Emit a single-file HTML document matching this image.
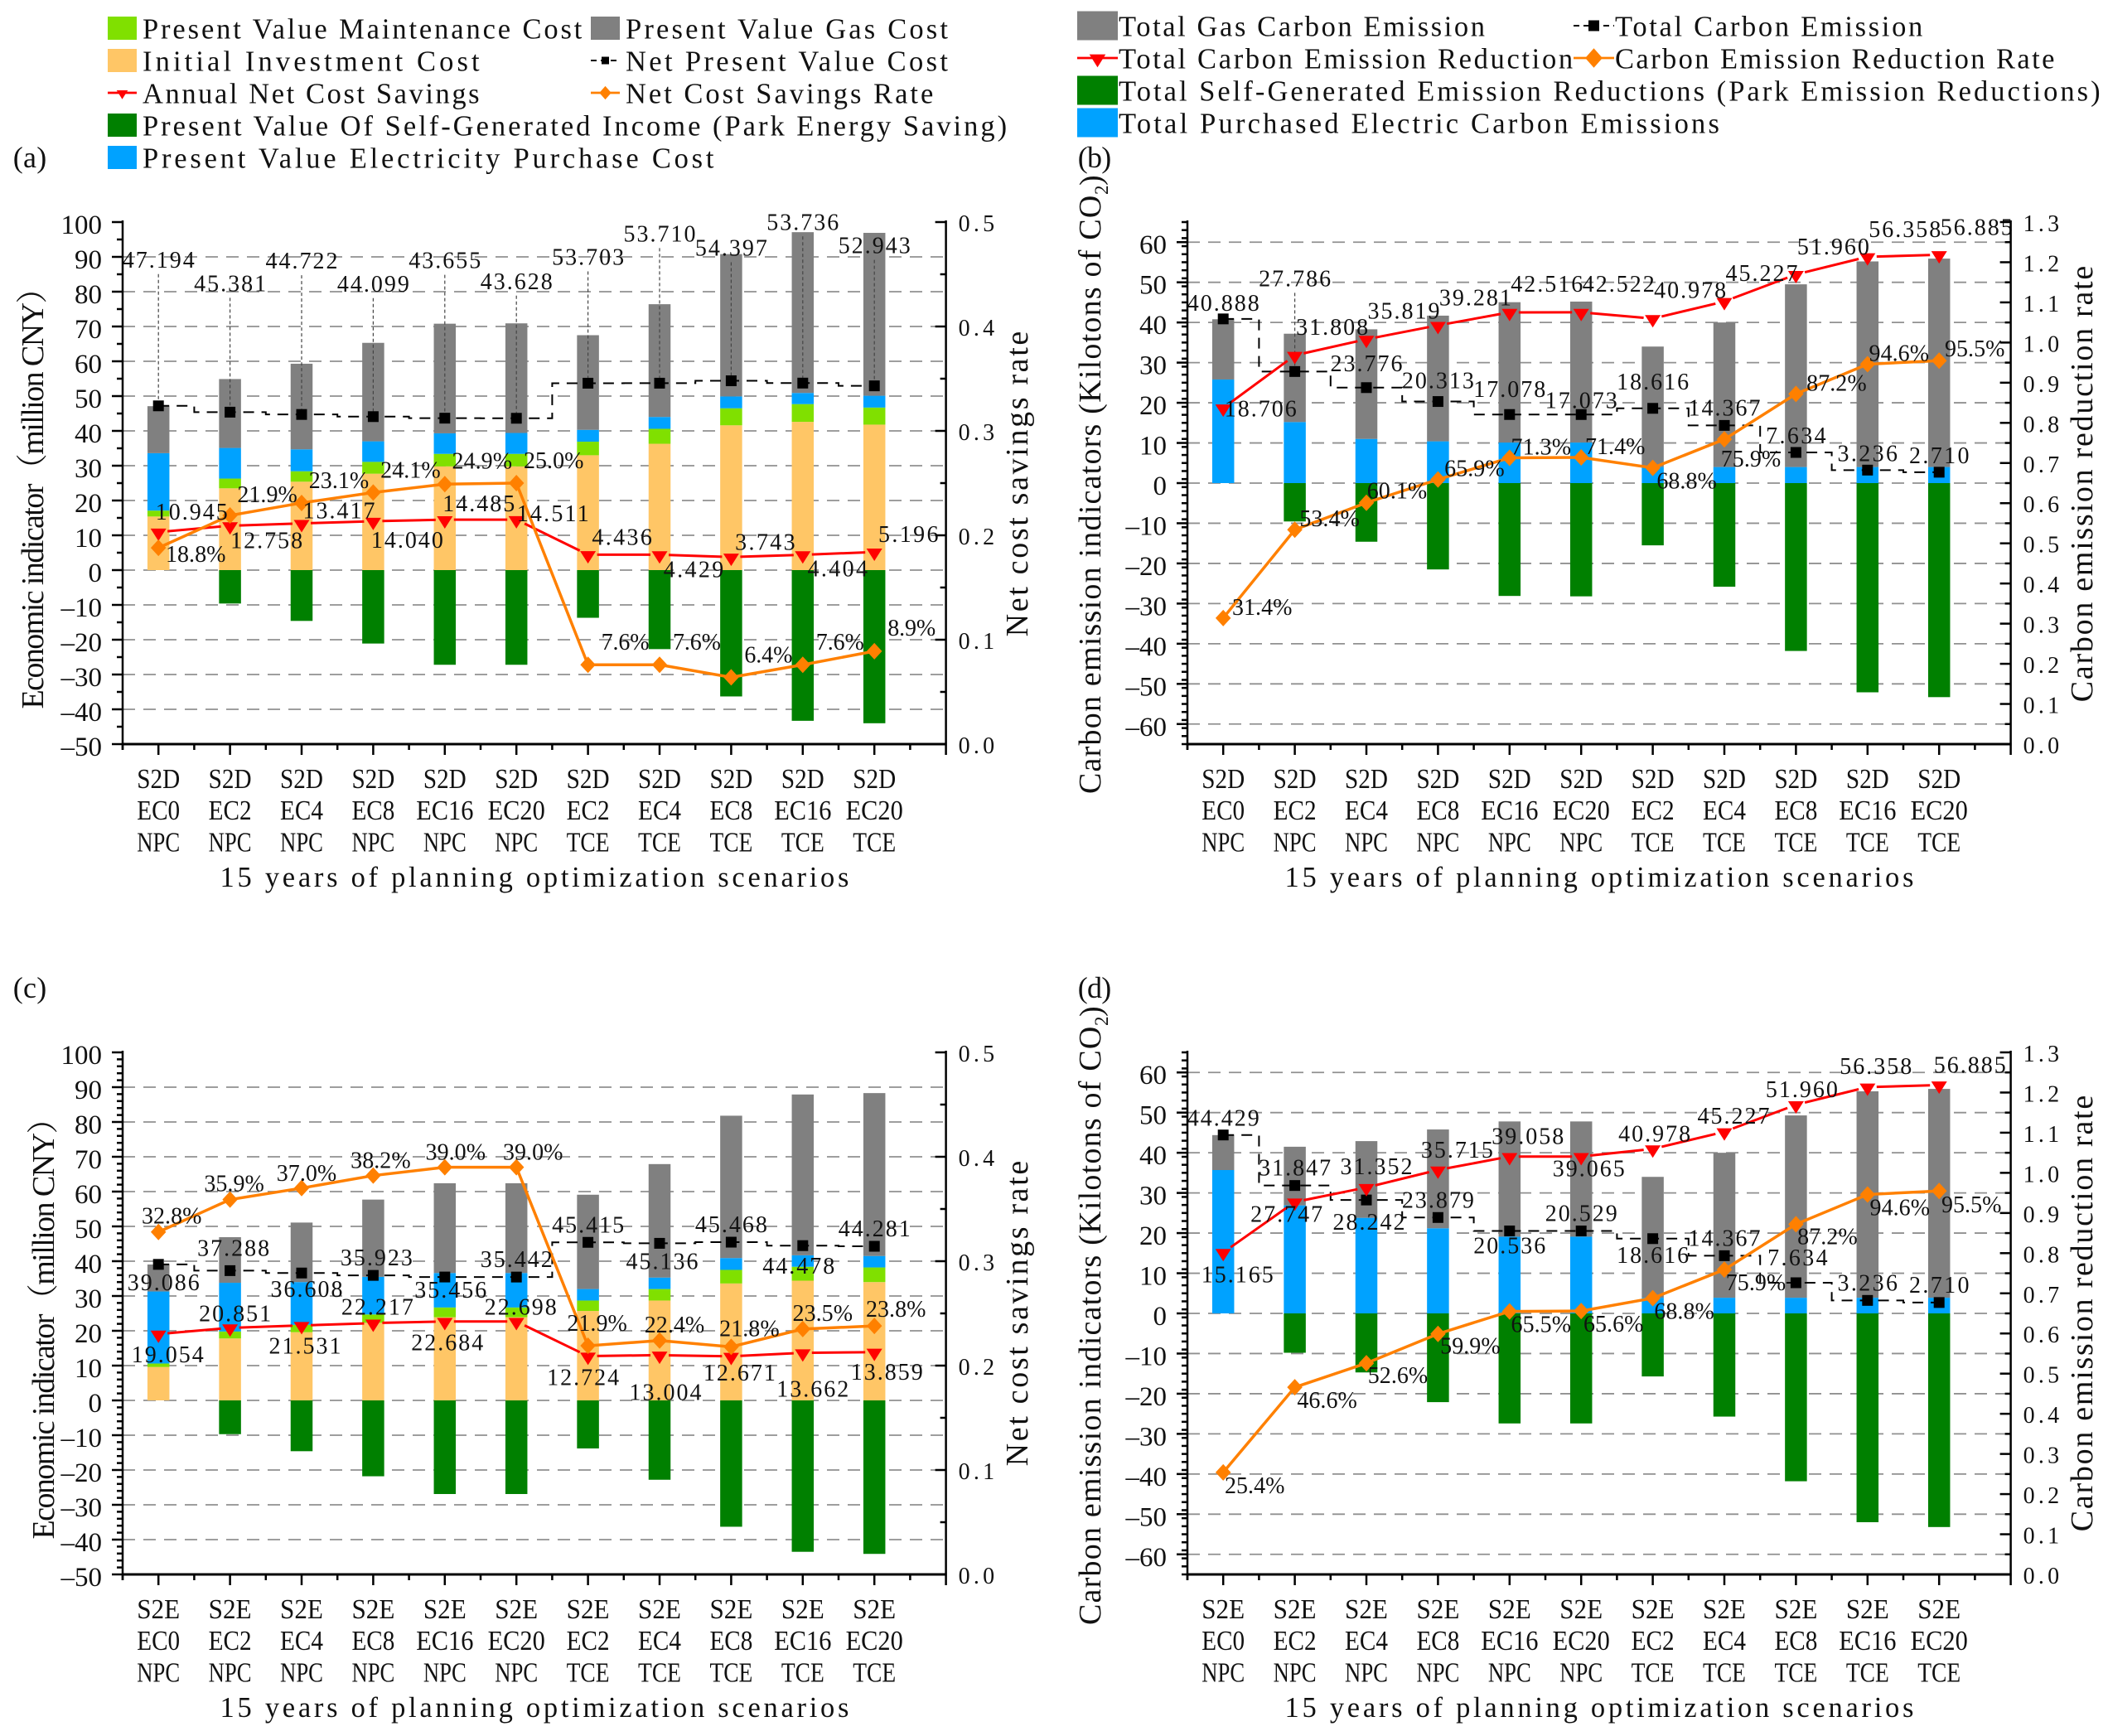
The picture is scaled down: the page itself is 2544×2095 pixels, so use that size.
<!DOCTYPE html>
<html lang="en">
<head>
<meta charset="utf-8">
<title>Planning optimization scenarios: economic and carbon indicators</title>
<style>
html,body{margin:0;padding:0;background:#fff}
svg{display:block}
text{font-family:"Liberation Serif","Noto Serif CJK SC",serif;fill:#111}
</style>
</head>
<body>
<svg id="figure" xmlns="http://www.w3.org/2000/svg" width="2544" height="2095" viewBox="0 0 2544 2095"></svg>
<script>
/* ---------- categories and ticks ---------- */
const categoriesS2D = ["S2D EC0 NPC","S2D EC2 NPC","S2D EC4 NPC","S2D EC8 NPC","S2D EC16 NPC","S2D EC20 NPC","S2D EC2 TCE","S2D EC4 TCE","S2D EC8 TCE","S2D EC16 TCE","S2D EC20 TCE"];
const categoriesS2E = ["S2E EC0 NPC","S2E EC2 NPC","S2E EC4 NPC","S2E EC8 NPC","S2E EC16 NPC","S2E EC20 NPC","S2E EC2 TCE","S2E EC4 TCE","S2E EC8 TCE","S2E EC16 TCE","S2E EC20 TCE"];
const costTicks = [100,90,80,70,60,50,40,30,20,10,0,-10,-20,-30,-40,-50];
const costRateTicks = [0.0,0.1,0.2,0.3,0.4,0.5];
const carbonTicks = [60,50,40,30,20,10,0,-10,-20,-30,-40,-50,-60];
const carbonRateTicks = [0.0,0.1,0.2,0.3,0.4,0.5,0.6,0.7,0.8,0.9,1.0,1.1,1.2,1.3];

/* ---------- panel (a) values ---------- */
const aInvest = [15.4,23.5,25.4,27.7,29.8,29.8,33.0,36.3,41.6,42.6,41.8];
const aMaint = [1.7,2.8,3.0,3.4,3.6,3.6,3.9,4.3,4.9,5.1,4.9];
const aElec = [16.5,8.8,6.3,5.9,5.9,6.0,3.4,3.4,3.4,3.2,3.4];
const aGas = [13.5,19.8,24.6,28.3,31.5,31.5,27.2,32.4,40.9,46.2,46.8];
const aIncome = [0,-9.6,-14.6,-21.1,-27.2,-27.2,-13.7,-22.7,-36.3,-43.3,-44.0];
const aNpv = [47.194,45.381,44.722,44.099,43.655,43.628,53.703,53.710,54.397,53.736,52.943];
const aSavings = [10.945,12.758,13.417,14.040,14.485,14.511,4.436,4.429,3.743,4.404,5.196];
const aRate = [0.188,0.219,0.231,0.241,0.249,0.250,0.076,0.076,0.064,0.076,0.089];

/* ---------- panel (b) values ---------- */
const bElec = [25.8,15.2,11.0,10.4,10.1,10.1,4.0,4.0,4.0,4.0,4.0];
const bGas = [15.0,22.0,27.3,31.3,34.95,35.1,30.0,36.0,45.5,51.2,51.9];
const bSelf = [0,-9.55,-14.6,-21.5,-28.1,-28.2,-15.5,-25.8,-41.8,-52.1,-53.3];
const bTotal = [40.888,27.786,23.776,20.313,17.078,17.073,18.616,14.367,7.634,3.236,2.710];
const bReduction = [18.706,31.808,35.819,39.281,42.516,42.522,40.978,45.227,51.960,56.358,56.885];
const bRate = [0.314,0.534,0.601,0.659,0.713,0.714,0.688,0.759,0.872,0.946,0.955];

/* ---------- panel (c) values ---------- */
const cInvest = [9.6,17.8,19.6,22.3,23.9,23.9,25.7,28.7,33.6,34.4,34.0];
const cMaint = [1.0,2.0,2.1,2.4,2.8,2.8,3.0,3.3,3.9,4.0,4.2];
const cElec = [20.7,14.0,12.3,10.8,9.9,9.9,3.3,3.3,3.4,3.3,3.3];
const cGas = [7.75,13.1,17.1,22.2,25.8,25.8,27.1,32.6,40.9,46.2,46.8];
const cIncome = [0,-9.7,-14.6,-21.8,-26.9,-26.9,-13.8,-22.8,-36.3,-43.5,-44.1];
const cNpv = [39.086,37.288,36.608,35.923,35.456,35.442,45.415,45.136,45.468,44.478,44.281];
const cSavings = [19.054,20.851,21.531,22.217,22.684,22.698,12.724,13.004,12.671,13.662,13.859];
const cRate = [0.328,0.359,0.370,0.382,0.390,0.390,0.219,0.224,0.218,0.235,0.238];

/* ---------- panel (d) values ---------- */
const dElec = [35.7,26.9,23.8,21.2,19.1,19.1,3.9,3.9,3.9,3.9,3.9];
const dGas = [8.7,14.6,19.1,24.6,28.7,28.7,30.1,36.1,45.4,51.4,52.0];
const dSelf = [0,-9.8,-14.7,-22.1,-27.4,-27.4,-15.7,-25.7,-41.8,-52.0,-53.2];
const dTotal = [44.429,31.847,28.242,23.879,20.536,20.529,18.616,14.367,7.634,3.236,2.710];
const dReduction = [15.165,27.747,31.352,35.715,39.058,39.065,40.978,45.227,51.960,56.358,56.885];
const dRate = [0.254,0.466,0.526,0.599,0.655,0.656,0.688,0.759,0.872,0.946,0.955];

/* ---------- colours ---------- */
const LIME = "#80e000", TAN = "#ffc666", BLUE = "#00a2ff", GRAY = "#808080", GREEN = "#008000", RED = "#ff0000", ORANGE = "#ff8000";

/* ---------- label placement (layout only: offsets relative to each mark) ---------- */
const zero11 = [0,0,0,0,0,0,0,0,0,0,0];
const layoutA = {
  totalDx: zero11, totalDy: [-167,-146,-176,-151,-181,-156,-143,-171,-151,-185,-160],
  midDx: [40,44,45,41,41,44,41,41,41,42,41], midDy: [-15,27,-6,32,-10,2,-12,27,-9,26,-12],
  rateDx: [45,45,45,45,45,45,45,45,45,45,45], rateDy: [17,-16,-18,-18,-19,-18,-18,-18,-18,-18,-19],
  leaders: [0,1,2,3,4,5,6,7,8,9,10]
};
const layoutB = {
  totalDx: zero11, totalDy: [-10,-103,-20,-16,-21,-8,-23,-12,-11,-11,-11],
  midDx: [45,45,45,45,45,45,45,45,45,45,45], midDy: [10,-25,-25,-24,-25,-25,-25,-25,-24,-24,-24],
  rateDx: [47,42,37,44,38,41,41,32,49,38,43], rateDy: [-4,-4,-5,-4,-4,-4,25,33,-4,-4,-5],
  leaders: [1]
};
const layoutC = {
  totalDx: [6,4,6,4,7,0,0,3,0,-5,0], totalDy: [31,-18,29,-12,25,-12,-12,31,-12,34,-12],
  midDx: [11,6,4,5,3,5,-6,7,10,12,15], midDy: [34,-8,34,-10,35,-8,35,54,29,53,33],
  rateDx: [16,5,6,9,13,20,11,18,22,24,26], rateDy: [-10,-10,-9,-9,-9,-9,-18,-10,-13,-10,-11],
  leaders: []
};
const layoutD = {
  totalDx: [0,0,3,0,0,0,0,0,2,0,0], totalDy: [-11,-12,36,-12,27,-12,29,-12,-21,-12,-12],
  midDx: [17,-10,12,23,22,9,2,11,7,10,37], midDy: [36,24,-16,-15,-15,24,-9,-10,-9,-16,-15],
  rateDx: [38,39,38,39,38,39,38,38,38,39,39], rateDy: [25,25,24,24,25,25,25,25,24,25,26],
  leaders: []
};

/* ---------- helpers ---------- */
const NS = "http://www.w3.org/2000/svg";
const root = document.getElementById("figure");
function mk(tag, attrs, parent) {
  const el = document.createElementNS(NS, tag);
  for (const k in attrs) el.setAttribute(k, attrs[k]);
  (parent || root).appendChild(el);
  return el;
}
function label(str, x, y, size, charW, anchor, parent, rotate) {
  const attrs = {x: x, y: y, "font-size": size, "text-anchor": anchor || "middle", textLength: (str.length * charW).toFixed(1), lengthAdjust: "spacing"};
  if (rotate) attrs.transform = "rotate(-90 " + x + " " + y + ")";
  const el = mk("text", attrs, parent);
  el.textContent = str;
  return el;
}
function squareMark(x, y, s, color, parent) {
  return mk("rect", {x: x - s / 2, y: y - s / 2, width: s, height: s, fill: color}, parent);
}
function triangleMark(x, y, w, h, color, parent) {
  const pts = (x - w / 2) + "," + (y - h * 0.28) + " " + (x + w / 2) + "," + (y - h * 0.28) + " " + x + "," + (y + h * 0.72);
  return mk("polygon", {points: pts, fill: color}, parent);
}
function diamondMark(x, y, w, h, color, parent) {
  const pts = x + "," + (y - h / 2) + " " + (x + w / 2) + "," + y + " " + x + "," + (y + h / 2) + " " + (x - w / 2) + "," + y;
  return mk("polygon", {points: pts, fill: color}, parent);
}
function gappedPath(pts, gap) {
  let d = "";
  for (let i = 0; i < pts.length - 1; i++) {
    const dx = pts[i + 1][0] - pts[i][0], dy = pts[i + 1][1] - pts[i][1];
    const len = Math.hypot(dx, dy);
    const ux = dx / len, uy = dy / len;
    d += "M" + (pts[i][0] + ux * gap).toFixed(1) + " " + (pts[i][1] + uy * gap).toFixed(1);
    d += " L" + (pts[i + 1][0] - ux * gap).toFixed(1) + " " + (pts[i + 1][1] - uy * gap).toFixed(1) + " ";
  }
  return d;
}

/* ---------- one panel ---------- */
function drawPanel(cfg) {
  const g = mk("g", {});
  
  

  const xL = cfg.xL, yT = cfg.yT, yB = yT + 630, step = 86.4, xR = xL + 11.5 * step;
  const xAt = i => xL + (i + 0.5) * step;
  const yAt = v => yB - (v - cfg.yMin) / (cfg.yMax - cfg.yMin) * (yB - yT);
  const rAt = r => yB - r / cfg.rMax * (yB - yT);

  /* grid */
  const gridG = mk("g", {}, g);
  
  
  cfg.ticks.forEach(t => {
    if (t === cfg.yMax || t === cfg.yMin) return;
    const ln = mk("line", {x1: xL, x2: xR, y1: yAt(t), y2: yAt(t), stroke: "#909090", "stroke-width": 1.8, "stroke-dasharray": "15 10"}, gridG);
    
    
  });

  /* bars */
  const barW = 26.5;
  cfg.categories.forEach((c, i) => {
    let base = 0;
    cfg.stack.forEach(s => {
      const v = s.values[i];
      const r = mk("rect", {x: xAt(i) - barW / 2, y: yAt(base + v), width: barW, height: yAt(base) - yAt(base + v), fill: s.color}, g);
      
      
      base += v;
    });
    const nv = cfg.negative[i];
    if (nv < 0) {
      const r = mk("rect", {x: xAt(i) - barW / 2, y: yAt(0), width: barW, height: yAt(nv) - yAt(0), fill: GREEN}, g);
      
      
    }
  });

  /* leader lines from total labels to markers */
  cfg.layout.leaders.forEach(i => {
    const y = yAt(cfg.total[i]);
    const ln = mk("line", {x1: xAt(i), x2: xAt(i), y1: y + cfg.layout.totalDy[i] + 8, y2: y, stroke: "#444", "stroke-width": 1.2, "stroke-dasharray": "4 3"}, g);
    
    
  });

  /* stepped total line */
  let stepPath = "M" + xAt(0) + " " + yAt(cfg.total[0]);
  for (let i = 0; i < cfg.total.length - 1; i++) {
    const mid = (xAt(i) + xAt(i + 1)) / 2;
    stepPath += " H" + mid + " V" + yAt(cfg.total[i + 1]) + " H" + xAt(i + 1);
  }
  const stepLine = mk("path", {d: stepPath, fill: "none", stroke: "#000", "stroke-width": 2, "stroke-dasharray": "13 9"}, g);
  
  
  cfg.total.forEach((v, i) => {
    const m = squareMark(xAt(i), yAt(v), 13, "#000", g);
    
    
  });

  /* red line */
  const redLine = mk("path", {d: gappedPath(cfg.mid.map((v, i) => [xAt(i), yAt(v)]), 11), fill: "none", stroke: RED, "stroke-width": 3}, g);
  
  
  cfg.mid.forEach((v, i) => {
    const m = triangleMark(xAt(i), yAt(v), 19, 15, RED, g);
    
    
  });

  /* orange line */
  const orangeLine = mk("polyline", {points: cfg.rate.map((v, i) => xAt(i) + "," + rAt(v)).join(" "), fill: "none", stroke: ORANGE, "stroke-width": 3.5}, g);
  
  
  cfg.rate.forEach((v, i) => {
    const m = diamondMark(xAt(i), rAt(v), 18.5, 20, ORANGE, g);
    
    
  });

  /* value labels */
  cfg.total.forEach((v, i) => {
    const t = label(v.toFixed(3), xAt(i) + cfg.layout.totalDx[i], yAt(v) + cfg.layout.totalDy[i], 28, 14.5, "middle", g);
    
    
  });
  cfg.mid.forEach((v, i) => {
    const t = label(v.toFixed(3), xAt(i) + cfg.layout.midDx[i], yAt(v) + cfg.layout.midDy[i], 28, 14.5, "middle", g);
    
    
  });
  cfg.rate.forEach((v, i) => {
    const t = label((v * 100).toFixed(1) + "%", xAt(i) + cfg.layout.rateDx[i], rAt(v) + cfg.layout.rateDy[i], 28, 14.5, "middle", g);
    
    
  });

  /* axis lines */
  const leftAxis = mk("line", {x1: xL, x2: xL, y1: yT - 2, y2: yB + 7, stroke: "#000", "stroke-width": 2.5}, g);
  
  
  const rightAxis = mk("line", {x1: xR, x2: xR, y1: yT - 2, y2: yB + 13, stroke: "#000", "stroke-width": 2.5}, g);
  
  
  const bottomAxis = mk("line", {x1: xL - 1, x2: xR + 1, y1: yB, y2: yB, stroke: "#000", "stroke-width": 3}, g);
  
  

  /* left ticks */
  cfg.ticks.forEach(t => {
    const ln = mk("line", {x1: xL - 13, x2: xL, y1: yAt(t), y2: yAt(t), stroke: "#000", "stroke-width": 2.5}, g);
    
    
    const tx = label(String(t).replace("-", "–"), xL - 25, yAt(t) + 14, 33, 16.5, "end", g);
    
    
  });
  for (let v = cfg.yMin; v <= cfg.yMax; v += cfg.minorStep) {
    if (v % 10 === 0) continue;
    const ln = mk("line", {x1: xL - 7, x2: xL, y1: yAt(v), y2: yAt(v), stroke: "#000", "stroke-width": 2.5}, g);
    
    
  }

  /* right ticks */
  cfg.rateTicks.forEach((t, k) => {
    const ln = mk("line", {x1: xR - 13, x2: xR, y1: rAt(t), y2: rAt(t), stroke: "#000", "stroke-width": 2.5}, g);
    
    
    const tx = label(t.toFixed(1), xR + 15, rAt(t) + 11, 28, 14.5, "start", g);
    
    
    if (k < cfg.rateTicks.length - 1) {
      const mr = (t + cfg.rateTicks[k + 1]) / 2;
      const mn = mk("line", {x1: xR - 7, x2: xR, y1: rAt(mr), y2: rAt(mr), stroke: "#000", "stroke-width": 2.5}, g);
      
      
    }
  });

  /* x ticks and labels */
  for (let k = 0; k <= 11; k++) {
    const mn = mk("line", {x1: xL + k * step, x2: xL + k * step, y1: yB, y2: yB + 7, stroke: "#000", "stroke-width": 2.5}, g);
    
    
  }
  cfg.categories.forEach((c, i) => {
    const mj = mk("line", {x1: xAt(i), x2: xAt(i), y1: yB, y2: yB + 13, stroke: "#000", "stroke-width": 2.5}, g);
    
    
    c.split(" ").forEach((part, line) => {
      const tx = label(part, xAt(i), yB + 53 + line * 38.2, 34, 17.3, "middle", g);
      tx.setAttribute("lengthAdjust", "spacingAndGlyphs");
      
      
    });
  });

  /* axis titles */
  const xTitle = label("15 years of planning optimization scenarios", cfg.xTitleX, yB + 172, 34.5, 17.65, "middle", g);
  
  
  const rTitle = label(cfg.rightTitle, cfg.rTitleX, cfg.rTitleY, 38, 17.55, "middle", g, true);
  
  
  return g;
}

/* ---------- panels ---------- */
drawPanel({
  name: "panel-a", xL: 148, yT: 268, yMin: -50, yMax: 100, rMax: 0.5, minorStep: 5,
  ticks: costTicks, rateTicks: costRateTicks, categories: categoriesS2D,
  stack: [{key: "investment", color: TAN, values: aInvest}, {key: "maintenance", color: LIME, values: aMaint}, {key: "electricity", color: BLUE, values: aElec}, {key: "gas", color: GRAY, values: aGas}],
  negative: aIncome, total: aNpv, mid: aSavings, rate: aRate, layout: layoutA,
  xTitleX: 645, rightTitle: "Net cost savings rate", rTitleX: 1240, rTitleY: 584
});
drawPanel({
  name: "panel-b", xL: 1433, yT: 268, yMin: -65, yMax: 65, rMax: 1.3, minorStep: 2,
  ticks: carbonTicks, rateTicks: carbonRateTicks, categories: categoriesS2D,
  stack: [{key: "purchased-electric", color: BLUE, values: bElec}, {key: "gas", color: GRAY, values: bGas}],
  negative: bSelf, total: bTotal, mid: bReduction, rate: bRate, layout: layoutB,
  xTitleX: 1930, rightTitle: "Carbon emission reduction rate", rTitleX: 2525, rTitleY: 584
});
drawPanel({
  name: "panel-c", xL: 148, yT: 1270, yMin: -50, yMax: 100, rMax: 0.5, minorStep: 2,
  ticks: costTicks, rateTicks: costRateTicks, categories: categoriesS2E,
  stack: [{key: "investment", color: TAN, values: cInvest}, {key: "maintenance", color: LIME, values: cMaint}, {key: "electricity", color: BLUE, values: cElec}, {key: "gas", color: GRAY, values: cGas}],
  negative: cIncome, total: cNpv, mid: cSavings, rate: cRate, layout: layoutC,
  xTitleX: 645, rightTitle: "Net cost savings rate", rTitleX: 1240, rTitleY: 1585
});
drawPanel({
  name: "panel-d", xL: 1433, yT: 1270, yMin: -65, yMax: 65, rMax: 1.3, minorStep: 2,
  ticks: carbonTicks, rateTicks: carbonRateTicks, categories: categoriesS2E,
  stack: [{key: "purchased-electric", color: BLUE, values: dElec}, {key: "gas", color: GRAY, values: dGas}],
  negative: dSelf, total: dTotal, mid: dReduction, rate: dRate, layout: layoutD,
  xTitleX: 1930, rightTitle: "Carbon emission reduction rate", rTitleX: 2525, rTitleY: 1585
});

/* ---------- left axis titles ---------- */
const costTitleA = label("Economic indicator（million CNY）", 52, 592, 38, 17, "middle", root, true);


const costTitleC = label("Economic indicator（million CNY）", 65, 1594, 38, 17, "middle", root, true);



function carbonTitle(baseX, startY, nameMain) {
  const main = label("Carbon emission indicators (Kilotons of CO", baseX, startY, 38, 17.2, "start", root, true);
  
  
  const sub = label("2", baseX + 9, startY - 723, 23, 11, "start", root, true);
  
  
  const close = label(")", baseX + 1, startY - 734, 38, 12, "start", root, true);
  
  
}
carbonTitle(1328, 958, "left-axis-title-b");
carbonTitle(1328, 1961, "left-axis-title-d");

/* ---------- panel letters ---------- */
const letterA = label("(a)", 36, 202, 36, 13.5, "middle");


const letterB = label("(b)", 1321, 202, 36, 13.5, "middle");


const letterC = label("(c)", 36, 1204, 36, 13.5, "middle");


const letterD = label("(d)", 1321, 1204, 36, 13.5, "middle");



/* ---------- legends ---------- */
const legendCost = [
  {text: "Present Value Maintenance Cost", kind: "box", color: LIME, col: 0, row: 0},
  {text: "Present Value Gas Cost", kind: "box", color: GRAY, col: 1, row: 0},
  {text: "Initial Investment Cost", kind: "box", color: TAN, col: 0, row: 1},
  {text: "Net Present Value Cost", kind: "square", color: "#000", col: 1, row: 1},
  {text: "Annual Net Cost Savings", kind: "triangle", color: RED, col: 0, row: 2},
  {text: "Net Cost Savings Rate", kind: "diamond", color: ORANGE, col: 1, row: 2},
  {text: "Present Value Of Self-Generated Income (Park Energy Saving)", kind: "box", color: GREEN, col: 0, row: 3},
  {text: "Present Value Electricity Purchase Cost", kind: "box", color: BLUE, col: 0, row: 4}
];
const legendCarbon = [
  {text: "Total Gas Carbon Emission", kind: "box", color: GRAY, col: 0, row: 0},
  {text: "Total Carbon Emission", kind: "square", color: "#000", col: 1, row: 0},
  {text: "Total Carbon Emission Reduction", kind: "triangle", color: RED, col: 0, row: 1},
  {text: "Carbon Emission Reduction Rate", kind: "diamond", color: ORANGE, col: 1, row: 1},
  {text: "Total Self-Generated Emission Reductions (Park Emission Reductions)", kind: "box", color: GREEN, col: 0, row: 2},
  {text: "Total Purchased Electric Carbon Emissions", kind: "box", color: BLUE, col: 0, row: 3}
];
function drawLegend(entries, opts) {
  const g = mk("g", {});
  
  
  entries.forEach(e => {
    const sx = opts.colX[e.col], cy = opts.firstY + e.row * 39;
    const cx = sx + opts.sw / 2;
    let sym;
    if (e.kind === "box") {
      sym = mk("rect", {x: sx, y: cy - opts.sh / 2, width: opts.sw, height: opts.sh, fill: e.color}, g);
    } else {
      const dash = e.kind === "square" ? {"stroke-dasharray": "7 5"} : {};
      mk("line", Object.assign({x1: sx, x2: sx + opts.sw, y1: cy, y2: cy, stroke: e.color, "stroke-width": e.kind === "square" ? 2 : 2.8}, dash), g);
      if (e.kind === "square") sym = squareMark(cx, cy, opts.ms, e.color, g);
      if (e.kind === "triangle") sym = triangleMark(cx, cy, opts.ms * 1.5, opts.ms * 1.2, e.color, g);
      if (e.kind === "diamond") sym = diamondMark(cx, cy, opts.ms * 1.6, opts.ms * 1.8, e.color, g);
    }
    
    
    const t = label(e.text, sx + opts.sw + opts.gap, cy + 12.5, 34.5, 17.68, "start", g);
    
    
  });
}
drawLegend(legendCost, {name: "legend-cost", colX: [130, 713], firstY: 34, sw: 35, sh: 28, ms: 9, gap: 7});
drawLegend(legendCarbon, {name: "legend-carbon", colX: [1300, 1899], firstY: 31, sw: 49, sh: 35, ms: 13, gap: 1});
</script>
</body>
</html>
